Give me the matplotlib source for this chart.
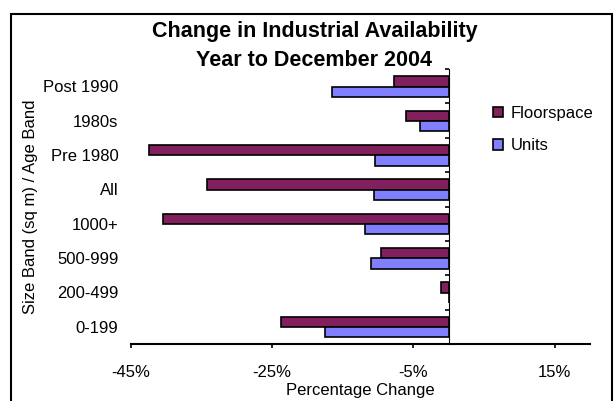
import numpy as np
import matplotlib.pyplot as plt
from matplotlib.patches import Patch, Rectangle

plt.rcParams['font.family'] = ['Liberation Sans', 'DejaVu Sans']

# Data (bottom to top)
categories = ['0-199', '200-499', '500-999', '1000+', 'All', 'Pre 1980', '1980s', 'Post 1990']
floorspace = [-23.7, -1.1, -9.6, -40.5, -34.2, -42.5, -6.1, -7.7]
units = [-17.5, 0.0, -11.0, -11.8, -10.6, -10.4, -4.1, -16.6]
xticks = [-45, -25, -5, 15]

floor_color = '#82205E'
units_color = '#8080FF'

fig = plt.figure(figsize=(6.16, 4.01), dpi=100)
ax = fig.add_axes([131 / 616, 1 - 344 / 401, (590 - 131) / 616, (344 - 69) / 401])

y = np.arange(len(categories))
h = 0.30
ax.barh(y + 0.14, floorspace, height=h, color=floor_color, edgecolor='black', linewidth=1.2)
ax.barh(y - 0.16, units, height=h, color=units_color, edgecolor='black', linewidth=1.2)

xmin, xmax = -45, 20
ax.set_xlim(xmin, xmax)
ax.set_ylim(-0.5, len(categories) - 0.5)

# x axis
ax.set_xticks(xticks)
ax.set_xticklabels([f'{v}%' for v in xticks])
ax.tick_params(axis='x', length=3, width=1.2, pad=12, labelsize=12)
ax.set_xlabel('Percentage Change', fontsize=12, labelpad=2)

# category labels on the left, no ticks
ax.set_yticks(y)
ax.set_yticklabels(categories)
ax.tick_params(axis='y', length=0, pad=9, labelsize=12)
ax.set_ylabel('Size Band (sq m) / Age Band', fontsize=12, labelpad=4)

for s in ['left', 'right', 'top']:
    ax.spines[s].set_visible(False)
ax.spines['bottom'].set_linewidth(1.5)

# vertical axis at zero with boundary ticks pointing left
zero_pos = (0 - xmin) / (xmax - xmin)
sec = ax.secondary_yaxis(zero_pos)
sec.set_yticks(np.arange(-0.5, len(categories), 1.0))
sec.yaxis.set_ticks_position('left')
sec.tick_params(axis='y', labelleft=False, labelright=False,
                length=3, width=1.2, direction='out')
sec.spines['left'].set_linewidth(1.5)

# legend
handles = [Patch(facecolor=floor_color, edgecolor='black', linewidth=1.2),
           Patch(facecolor=units_color, edgecolor='black', linewidth=1.2)]
fig.legend(handles, ['Floorspace', 'Units'], loc='upper left',
           bbox_to_anchor=(493 / 616, 1 - 106 / 401), frameon=False, fontsize=12,
           handlelength=0.6, handleheight=0.6, handletextpad=0.45, labelspacing=1.05,
           borderpad=0, borderaxespad=0)

fig.suptitle('Change in Industrial Availability\nYear to December 2004',
             x=(152 + 477) / 2 / 616, y=1 - 21 / 401, fontsize=15.5, fontweight='bold',
             va='top', linespacing=1.5)

# chart border
fig.patches.append(Rectangle((11 / 616, -0.05), (612 - 11) / 616, 1.05 - 14 / 401,
                             transform=fig.transFigure, fill=False,
                             edgecolor='black', linewidth=1.5))

fig.savefig('out.png', dpi=100)
